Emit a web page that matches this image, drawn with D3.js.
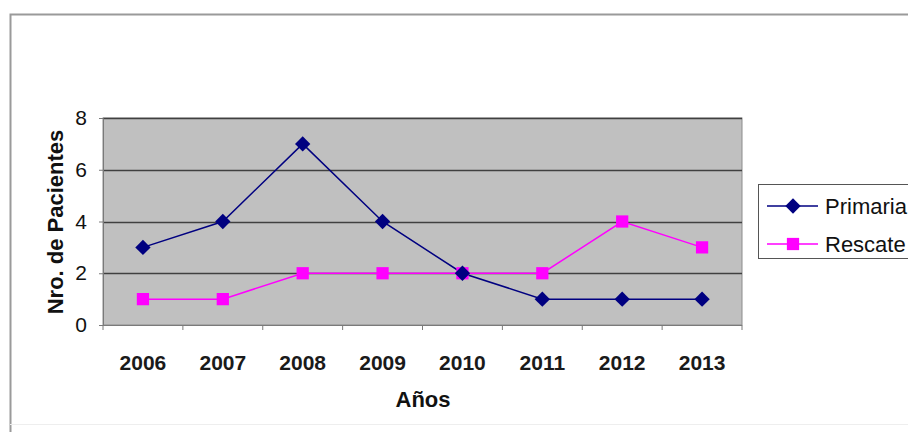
<!DOCTYPE html>
<html>
<head>
<meta charset="utf-8">
<script src="https://cdn.jsdelivr.net/npm/d3@7/dist/d3.min.js"></script>
<style>
  html, body { margin: 0; padding: 0; background: #ffffff; }
  svg { display: block; font-family: "Liberation Sans", Arial, sans-serif; }
</style>
</head>
<body>
<svg id="chart" width="908" height="432"></svg>
<script>
const years = ["2006", "2007", "2008", "2009", "2010", "2011", "2012", "2013"];
const primaria = [3, 4, 7, 4, 2, 1, 1, 1];
const rescate = [1, 1, 2, 2, 2, 2, 4, 3];
const yTicks = [0, 2, 4, 6, 8];
const seriesNames = ["Primaria", "Rescate"];

const svg = d3.select("#chart");
const W = 908, H = 432;
const plot = { left: 103, top: 118, right: 742, bottom: 325 };

// outer chart frame
svg.append("rect").attr("x", 0).attr("y", 0).attr("width", W).attr("height", H).attr("fill", "#fff");
svg.append("path")
  .attr("d", `M10.5,${H} V14.5 H${W}`)
  .attr("fill", "none").attr("stroke", "#9a9a9a").attr("stroke-width", 2);
svg.append("line").attr("x1", 10).attr("x2", W).attr("y1", 424.5).attr("y2", 424.5)
  .attr("stroke", "#eeeeee").attr("stroke-width", 1);

const x = d3.scaleBand().domain(years).range([plot.left, plot.right]).padding(0);
const y = d3.scaleLinear().domain([0, 8]).range([plot.bottom, plot.top]);

// plot background
svg.append("rect")
  .attr("x", plot.left).attr("y", plot.top)
  .attr("width", plot.right - plot.left).attr("height", plot.bottom - plot.top)
  .attr("fill", "#c0c0c0").attr("stroke", "#8c8c8c").attr("stroke-width", 1);

// gridlines
svg.append("g").selectAll("line").data(yTicks.filter(d => d > 0)).join("line")
  .attr("x1", plot.left).attr("x2", plot.right)
  .attr("y1", d => Math.round(y(d)) + 0.5).attr("y2", d => Math.round(y(d)) + 0.5)
  .attr("stroke", "#404040").attr("stroke-width", 1.3);

// y axis
const yAxis = d3.axisLeft(y).tickValues(yTicks).tickSize(4).tickPadding(12);
const gy = svg.append("g").attr("transform", `translate(${plot.left},0)`).call(yAxis);
gy.select(".domain").attr("stroke", "#7a7a7a");
gy.selectAll(".tick line").attr("stroke", "#7a7a7a");
gy.selectAll(".tick text").attr("font-size", 21).attr("fill", "#111")
  .attr("font-family", "'Liberation Sans', Arial, sans-serif");

// x axis with ticks at category boundaries
const gx = svg.append("g").attr("transform", `translate(0,${plot.bottom})`);
gx.append("line").attr("x1", plot.left).attr("x2", plot.right).attr("y1", 0.5).attr("y2", 0.5)
  .attr("stroke", "#7a7a7a");
const boundaries = years.map(d => x(d)).concat([x(years[years.length - 1]) + x.bandwidth()]);
gx.selectAll("line.tk").data(boundaries).join("line").attr("class", "tk")
  .attr("x1", d => d).attr("x2", d => d).attr("y1", 0).attr("y2", 5)
  .attr("stroke", "#7a7a7a");
gx.selectAll("text").data(years).join("text")
  .attr("x", d => x(d) + x.bandwidth() / 2).attr("y", 45)
  .attr("text-anchor", "middle").attr("font-size", 21).attr("font-weight", "bold")
  .attr("fill", "#1a1a1a").text(d => d);

// axis titles
svg.append("text").attr("x", 423).attr("y", 407).attr("text-anchor", "middle")
  .attr("font-size", 22).attr("font-weight", "bold").attr("fill", "#111").text("Años");
svg.append("text").attr("transform", "translate(63,222) rotate(-90)").attr("text-anchor", "middle")
  .attr("font-size", 22).attr("font-weight", "bold").attr("fill", "#111").text("Nro. de Pacientes");

const cx = (d, i) => x(years[i]) + x.bandwidth() / 2;
const line = d3.line().x((d, i) => cx(d, i)).y(d => y(d));

const colors = { Primaria: "#000080", Rescate: "#ff00ff" };
const diamond = d3.symbol().type(d3.symbolDiamond2).size(150);
const square = d3.symbol().type(d3.symbolSquare).size(150);

// Rescate
svg.append("path").datum(rescate).attr("d", line).attr("fill", "none")
  .attr("stroke", colors.Rescate).attr("stroke-width", 1.5);
// Primaria
svg.append("path").datum(primaria).attr("d", line).attr("fill", "none")
  .attr("stroke", colors.Primaria).attr("stroke-width", 1.5);

svg.append("g").selectAll("path").data(rescate).join("path")
  .attr("transform", (d, i) => `translate(${cx(d, i)},${y(d)})`)
  .attr("d", square).attr("fill", colors.Rescate);
svg.append("g").selectAll("path").data(primaria).join("path")
  .attr("transform", (d, i) => `translate(${cx(d, i)},${y(d)})`)
  .attr("d", diamond).attr("fill", colors.Primaria);

// legend
const lg = svg.append("g");
lg.append("rect").attr("x", 758.5).attr("y", 184.5).attr("width", 160).attr("height", 74)
  .attr("fill", "#fff").attr("stroke", "#555").attr("stroke-width", 1);
const lgY = [206, 244];
seriesNames.forEach((name, i) => {
  lg.append("line").attr("x1", 767).attr("x2", 818).attr("y1", lgY[i]).attr("y2", lgY[i])
    .attr("stroke", colors[name]).attr("stroke-width", 1.5);
  lg.append("path").attr("transform", `translate(793,${lgY[i]})`)
    .attr("d", i === 0 ? diamond : square).attr("fill", colors[name]);
  lg.append("text").attr("x", 825).attr("y", lgY[i]).attr("dy", "0.35em")
    .attr("font-size", 22).attr("fill", "#111").text(name);
});
</script>
</body>
</html>
